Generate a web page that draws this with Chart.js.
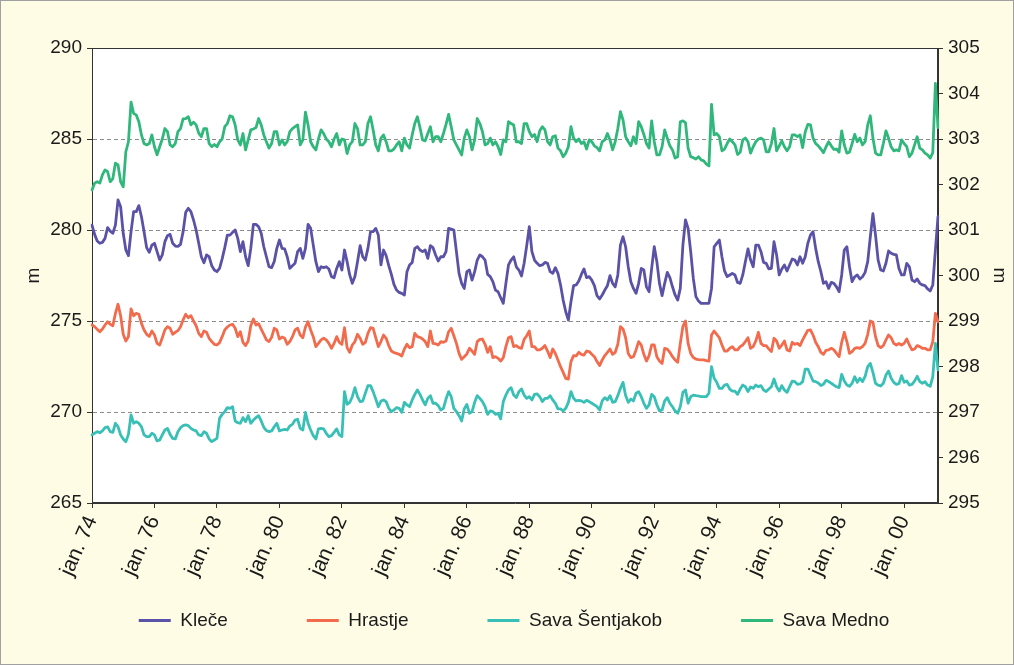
<!DOCTYPE html>
<html>
<head>
<meta charset="utf-8">
<script src="https://cdn.jsdelivr.net/npm/chart.js@4.4.1/dist/chart.umd.min.js"></script>
<style>
  html, body { margin: 0; padding: 0; background: #fffce6; }
  canvas { display: block; }
</style>
</head>
<body>
<canvas id="chart" width="1014" height="665"></canvas>
<script>
// Monthly water levels (m a.s.l.), January 1974 – February 2001
const startYear = 1974;
const monthAbbr = ['jan.', 'feb.', 'mar.', 'apr.', 'maj', 'jun.', 'jul.', 'avg.', 'sep.', 'okt.', 'nov.', 'dec.'];
const tickLabels = ['jan. 74', 'jan. 76', 'jan. 78', 'jan. 80', 'jan. 82', 'jan. 84', 'jan. 86',
  'jan. 88', 'jan. 90', 'jan. 92', 'jan. 94', 'jan. 96', 'jan. 98', 'jan. 00'];
const seriesNames = ['Kleče', 'Hrastje', 'Sava Šentjakob', 'Sava Medno'];

// Kleče (left axis)
const kleceValues = [
  280.27,279.76,279.40,279.27,279.32,279.54,280.13,279.94,279.82,280.27,281.65,281.28,279.82,278.90,278.59,279.91,281.01,281.01,281.34,280.73,279.91,279.03,278.77,279.17,279.27,278.81,278.35,278.63,279.36,279.69,279.76,279.27,279.12,279.10,279.21,279.91,280.97,281.19,281.01,280.55,280.00,279.27,278.53,278.20,278.63,278.53,278.04,277.80,277.71,277.89,278.41,279.03,279.72,279.72,279.87,
  280.00,279.54,278.81,279.36,278.53,278.04,278.99,280.31,280.31,280.18,279.82,279.08,278.53,277.98,277.93,278.26,278.99,279.45,278.99,278.96,278.53,277.89,278.04,278.17,278.81,278.99,278.44,278.99,280.31,280.09,279.17,278.26,277.71,277.98,277.93,277.98,277.86,277.44,277.38,277.89,278.26,277.80,278.90,278.26,277.53,277.07,277.44,278.26,279.14,278.53,278.35,278.99,279.91,
  279.91,280.09,279.72,278.08,278.90,278.59,278.04,277.56,277.01,276.70,276.57,276.52,276.43,277.71,278.08,278.22,278.99,279.08,278.90,278.81,278.90,278.44,279.14,279.03,278.63,278.30,278.53,278.53,278.81,280.09,280.05,280.00,278.81,277.62,277.07,276.79,277.71,277.80,277.25,277.71,278.35,278.63,278.53,278.35,277.56,277.44,277.16,276.70,276.61,276.28,275.97,277.07,278.08,
  278.35,278.53,277.98,277.80,277.47,278.17,279.14,280.18,278.81,278.35,278.17,278.04,278.08,278.22,278.17,277.71,277.62,277.93,277.62,276.98,276.15,275.51,275.05,276.06,276.94,276.98,277.20,277.56,277.86,277.38,277.44,277.25,276.94,276.39,276.21,276.43,276.70,276.94,277.49,277.07,276.88,277.53,279.17,279.63,279.08,277.98,277.16,276.79,276.52,277.07,277.89,277.80,276.88,276.61,277.89,
  279.08,278.26,277.07,276.39,277.07,277.67,277.38,276.88,276.43,276.15,276.79,279.17,280.55,280.09,278.81,277.34,276.34,276.10,275.97,275.97,275.97,275.97,276.79,279.08,279.27,279.45,278.53,277.75,277.44,277.53,277.62,277.53,277.12,277.07,277.53,278.26,278.96,278.35,277.98,279.17,279.17,278.81,278.22,278.17,277.86,277.89,279.36,278.63,277.53,277.86,278.08,277.75,278.08,278.41,
  278.35,278.08,278.53,278.17,278.53,279.27,279.72,279.91,278.99,278.26,277.71,277.07,277.16,276.79,277.12,277.07,276.88,276.61,277.53,278.90,279.08,277.98,277.16,277.43,277.53,277.31,277.43,277.67,278.26,279.63,280.90,279.72,278.35,277.80,277.75,278.17,278.85,278.72,278.66,278.63,277.89,277.53,277.53,278.17,277.98,277.25,277.16,277.31,277.07,276.98,276.94,276.76,276.65,276.98,278.90,280.73
];

// Hrastje (left axis)
const hrastjeValues = [
  274.78,274.69,274.54,274.41,274.56,274.78,274.96,274.82,274.74,275.42,275.92,275.29,274.27,273.90,274.14,275.66,275.29,275.42,275.37,274.87,274.51,274.27,274.16,274.45,274.23,273.77,273.68,274.08,274.51,274.69,274.60,274.27,274.38,274.47,274.69,275.06,275.37,275.18,275.29,275.00,274.74,274.32,274.14,274.45,274.38,274.05,273.87,273.72,273.68,273.81,274.14,274.51,274.67,274.78,274.82,
  274.60,274.14,274.41,273.83,273.65,273.90,274.74,275.11,274.78,274.85,274.56,274.27,273.96,273.87,274.10,274.60,274.51,274.01,274.12,274.05,273.72,273.87,274.14,274.51,274.60,274.23,274.08,274.67,274.96,274.51,274.14,273.59,273.77,273.96,274.05,273.96,273.77,273.50,273.77,274.14,273.83,273.72,274.63,273.54,273.28,273.68,273.87,274.27,274.05,273.72,273.83,274.32,274.63,
  274.60,274.08,273.59,273.87,274.23,274.05,273.65,273.35,273.26,273.22,273.17,273.08,273.46,273.72,273.54,273.59,274.32,274.14,274.10,274.01,273.87,273.59,274.45,273.77,273.75,273.68,273.87,273.83,273.90,274.41,274.60,274.19,273.77,273.22,272.89,273.04,273.19,273.50,273.35,273.17,273.87,273.99,274.01,273.72,273.28,273.59,272.99,273.04,272.95,272.80,272.99,273.59,274.08,
  274.14,273.59,273.65,273.54,273.50,273.99,274.19,274.45,273.59,273.59,273.41,273.41,273.50,273.65,273.35,272.99,273.46,273.22,272.86,272.49,272.18,271.85,271.81,272.77,273.10,273.08,273.28,273.17,273.13,273.35,273.32,273.17,273.04,272.77,272.55,272.86,273.10,273.28,273.46,273.17,273.28,273.72,274.69,274.56,274.08,273.22,272.99,273.04,273.41,273.87,273.68,273.17,272.80,273.10,273.68,
  273.68,273.04,272.80,272.67,273.50,273.46,273.28,273.04,272.86,272.73,273.77,274.70,275.00,273.77,273.22,272.99,272.91,272.88,272.86,272.86,272.82,272.80,274.23,274.45,274.27,274.08,273.68,273.35,273.35,273.50,273.59,273.41,273.41,273.59,273.68,273.87,274.08,273.50,273.59,273.90,274.38,273.77,273.65,273.65,273.46,273.32,274.05,273.90,273.50,273.68,273.90,273.41,273.35,273.83,
  273.72,273.77,273.65,273.96,274.23,274.49,274.51,274.23,273.83,273.59,273.28,273.17,273.39,273.41,273.50,273.41,273.22,273.04,273.83,274.38,273.87,273.22,273.32,273.50,273.54,273.50,273.59,273.77,274.27,275.00,274.93,274.14,273.65,273.54,273.65,273.96,274.23,274.08,273.77,273.68,273.76,273.68,273.77,274.01,273.68,273.41,273.46,273.65,273.59,273.50,273.50,273.41,273.41,273.87,275.42,274.96
];

// Sava Šentjakob (left axis)
const sentjakobValues = [
  268.74,268.83,268.92,268.86,268.96,269.14,269.18,268.92,268.88,269.38,269.19,268.74,268.52,268.37,268.77,269.84,269.38,269.47,269.38,269.19,268.74,268.65,268.65,268.83,268.74,268.41,268.46,268.74,269.01,269.10,268.77,268.55,268.52,268.92,269.14,269.25,269.29,269.25,269.10,269.01,268.96,268.74,268.70,268.92,268.83,268.52,268.37,268.46,268.55,269.65,269.87,270.02,270.24,270.20,270.29,
  269.50,269.41,269.38,269.69,269.47,269.80,269.38,269.56,269.69,269.80,269.51,269.16,268.98,268.92,268.96,269.19,269.38,268.96,269.01,269.05,269.01,269.23,269.32,269.56,269.60,269.10,269.01,269.98,269.38,269.01,268.70,268.52,269.07,269.10,269.07,268.83,268.65,268.70,268.88,269.07,268.74,268.65,271.12,270.42,270.53,270.84,271.34,270.84,270.57,270.60,271.03,271.45,271.45,
  271.12,270.71,270.29,270.60,270.66,270.57,270.20,270.02,270.11,270.24,270.20,269.98,270.53,270.39,270.29,270.66,270.97,271.21,270.97,270.66,270.39,270.75,270.90,270.48,270.48,270.35,270.11,270.20,270.71,271.12,270.84,270.20,270.02,269.80,269.51,270.17,270.42,269.93,270.02,270.53,270.90,270.75,270.57,270.29,269.87,270.06,270.02,269.87,269.93,269.62,270.57,270.93,271.21,
  271.34,270.93,270.79,271.12,271.27,270.93,270.75,270.84,270.66,270.97,270.99,270.84,270.57,270.75,270.75,270.90,270.66,270.48,270.17,270.17,270.06,270.20,270.53,271.12,270.75,270.61,270.64,270.61,270.53,270.64,270.57,270.48,270.39,270.29,270.11,270.61,270.79,270.66,270.90,270.53,270.57,270.90,271.30,271.63,270.90,270.53,270.71,270.61,271.03,271.12,270.84,270.48,270.20,270.39,270.97,
  270.84,270.39,270.06,270.11,270.61,270.79,270.48,270.29,270.06,269.93,270.29,271.08,271.21,270.48,270.84,270.93,270.90,270.88,270.84,270.84,270.84,271.03,272.49,271.85,271.63,271.30,271.30,271.48,271.52,271.26,271.15,271.15,270.97,271.26,271.48,271.39,271.12,271.37,271.30,271.48,271.39,271.45,271.21,271.12,271.26,271.39,271.81,271.39,271.15,271.45,271.21,271.08,271.39,271.70,
  271.67,271.52,271.54,271.67,272.36,272.36,272.03,271.70,271.67,271.59,271.45,271.52,271.74,271.67,271.58,271.48,271.39,271.34,272.07,271.70,271.48,271.41,271.58,271.94,271.63,271.85,271.67,271.96,272.49,272.67,272.18,271.58,271.48,271.43,271.58,272.03,272.25,271.85,271.63,271.52,271.56,272.00,271.63,271.70,271.48,271.52,271.70,271.96,271.67,271.58,271.67,271.48,271.41,271.94,273.77,272.31
];

// Sava Medno (right axis)
const mednoValues = [
  301.88,302.03,302.06,302.03,302.21,302.32,302.28,302.06,302.13,302.47,302.43,302.06,301.95,302.72,302.94,303.81,303.56,303.53,303.38,303.09,302.90,302.87,302.90,303.09,302.83,302.65,302.83,303.00,303.23,303.16,302.87,302.83,302.90,303.16,303.23,303.44,303.45,303.49,303.31,303.37,303.31,303.13,303.05,303.23,303.23,302.90,302.83,302.88,302.83,302.94,303.00,303.27,303.34,303.51,303.49,
  303.31,302.98,302.87,303.12,302.76,302.98,303.20,303.22,303.25,303.45,303.31,303.09,302.94,302.80,302.90,303.16,303.16,302.87,302.98,302.87,302.94,303.16,303.23,303.27,303.31,302.87,302.98,303.59,303.31,302.94,302.83,302.76,303.00,303.20,303.12,303.00,302.94,302.83,303.00,303.12,302.87,303.00,302.98,302.68,302.87,302.94,303.34,303.23,302.87,302.87,302.94,303.34,303.49,
  303.20,302.87,302.74,303.02,303.09,302.94,302.74,302.74,302.78,302.87,302.94,302.74,303.02,302.87,302.80,303.09,303.34,303.49,303.25,302.98,302.96,303.12,303.27,302.94,303.05,303.05,302.94,303.12,303.32,303.54,303.27,302.98,302.87,302.76,302.65,303.02,303.20,303.05,302.76,302.98,303.45,303.34,303.16,302.87,302.90,303.02,302.87,302.94,302.83,302.66,302.98,302.94,303.38,
  303.34,303.31,302.94,302.94,302.90,303.34,303.34,303.16,303.05,303.10,302.94,303.18,303.27,303.20,302.94,302.87,303.05,303.07,302.80,302.74,302.61,302.69,302.83,303.27,303.02,302.94,303.00,302.90,302.94,302.78,302.98,302.94,302.85,302.81,302.74,302.94,302.98,303.12,302.98,302.76,302.94,303.23,303.60,303.42,303.05,302.94,302.85,303.05,302.90,303.38,303.27,303.10,302.90,302.80,303.40,
  302.94,302.65,302.65,302.83,303.20,303.02,302.85,302.76,302.58,302.61,303.38,303.40,303.36,302.80,302.61,302.59,302.56,302.61,302.54,302.52,302.45,302.41,303.76,303.09,303.12,303.05,302.74,302.78,302.90,303.00,302.94,302.87,302.66,302.71,302.98,303.02,302.94,302.69,302.83,302.94,303.00,303.02,302.98,302.72,302.72,302.90,303.23,302.74,302.85,302.96,302.83,302.74,302.83,303.09,
  303.09,303.05,303.09,302.81,303.16,303.32,303.31,303.02,302.90,302.85,302.78,302.70,302.83,302.94,302.85,302.77,302.78,302.71,303.18,302.87,302.69,302.71,302.90,303.10,302.94,303.02,302.87,302.94,303.31,303.51,303.02,302.69,302.65,302.65,302.90,303.18,303.02,302.83,302.74,302.76,302.74,302.98,302.90,302.83,302.61,302.69,302.87,303.05,302.80,302.76,302.69,302.65,302.58,302.70,304.22,303.25
];

const seriesColors = ['#5a52a6', '#f26b4c', '#38c0b6', '#30b77b'];

// one category per month
const categories = [];
for (let i = 0; i < kleceValues.length; i++) {
  const yr = (startYear + Math.floor(i / 12)) % 100;
  categories.push(monthAbbr[i % 12] + ' ' + String(yr).padStart(2, '0'));
}

const FONT = "'Liberation Sans', Arial, sans-serif";
Chart.defaults.font.family = FONT;
Chart.defaults.font.size = 19;
Chart.defaults.color = '#1a1a1a';

const backdrop = {
  id: 'backdrop',
  beforeDraw(chart) {
    const { ctx, width, height, chartArea: a } = chart;
    // let the rotated month labels run below the (short) x-axis box
    if (chart.scales.x) chart.scales.x._computeLabelArea = () => undefined;
    ctx.save();
    ctx.fillStyle = '#fffce6';
    ctx.fillRect(0, 0, width, height);
    ctx.fillStyle = '#ffffff';
    ctx.fillRect(a.left, a.top, a.right - a.left, a.bottom - a.top);
    ctx.strokeStyle = '#a0a0a0';
    ctx.lineWidth = 1;
    ctx.strokeRect(0.5, 0.5, width - 1, height - 1);
    ctx.restore();
  },
  beforeDatasetsDraw(chart) {
    const { ctx, chartArea: a } = chart;
    ctx.save();
    ctx.strokeStyle = '#333333';
    ctx.lineWidth = 1;
    ctx.strokeRect(Math.round(a.left) + 0.5, Math.round(a.top) + 0.5,
      Math.round(a.right - a.left) - 1, Math.round(a.bottom - a.top) - 1);
    ctx.restore();
  }
};

function lineSet(label, data, color, axis) {
  return {
    label, data, yAxisID: axis,
    borderColor: color, backgroundColor: color,
    borderWidth: 2.8, pointRadius: 0, pointHoverRadius: 0,
    tension: 0, borderJoinStyle: 'round', borderCapStyle: 'round',
    fill: false
  };
}

const chart = new Chart(document.getElementById('chart'), {
  type: 'line',
  data: {
    labels: categories,
    datasets: [
      lineSet(seriesNames[0], kleceValues, seriesColors[0], 'y'),
      lineSet(seriesNames[1], hrastjeValues, seriesColors[1], 'y'),
      lineSet(seriesNames[2], sentjakobValues, seriesColors[2], 'y'),
      lineSet(seriesNames[3], mednoValues, seriesColors[3], 'y1')
    ]
  },
  options: {
    responsive: false,
    animation: false,
    devicePixelRatio: 1,
    layout: { padding: { top: 48, left: 14, right: 0, bottom: 25 } },
    plugins: {
      tooltip: { enabled: false },
      legend: {
        position: 'bottom',
        labels: {
          usePointStyle: true,
          pointStyle: 'line',
          pointStyleWidth: 32,
          padding: 79,
          color: '#1a1a1a',
          font: { size: 19, family: FONT }
        }
      }
    },
    scales: {
      x: {
        type: 'category',
        offset: false,
        afterFit(s) { s.height = 29; },
        grid: {
          drawOnChartArea: false,
          drawTicks: true,
          tickLength: 5,
          color: c => (c.index % 24 === 0 ? '#333333' : 'rgba(0,0,0,0)')
        },
        border: { color: '#333333', width: 1 },
        ticks: {
          autoSkip: false,
          minRotation: 66,
          maxRotation: 66,
          padding: 4,
          color: '#1a1a1a',
          font: { size: 21 },
          callback: (v, i) => (i % 24 === 0 ? tickLabels[i / 24] : '')
        }
      },
      y: {
        position: 'left',
        min: 265, max: 290,
        afterFit(s) { s.width = 78; },
        ticks: { stepSize: 5, padding: 5, color: '#1a1a1a', font: { size: 19 } },
        grid: {
          color: c => (c.tick && (c.tick.value === 265 || c.tick.value === 290) ? 'rgba(0,0,0,0)' : '#8c8c8c'),
          lineWidth: 1,
          tickLength: 5,
          tickColor: '#333333',
          tickWidth: 1
        },
        border: { color: '#333333', width: 1, dash: [4, 3] },
        title: { display: true, text: 'm', color: '#1a1a1a', font: { size: 19 }, padding: { top: 8, bottom: 0 } }
      },
      y1: {
        position: 'right',
        min: 295, max: 305,
        afterFit(s) { s.width = 76; },
        ticks: { stepSize: 1, padding: 5, color: '#1a1a1a', font: { size: 19 } },
        grid: { drawOnChartArea: false, tickLength: 5, tickColor: '#333333', color: '#333333' },
        border: { color: '#333333', width: 1 },
        title: { display: true, text: 'm', color: '#1a1a1a', font: { size: 19 }, padding: { top: 3, bottom: 0 } }
      }
    }
  },
  plugins: [backdrop]
});
</script>
</body>
</html>
